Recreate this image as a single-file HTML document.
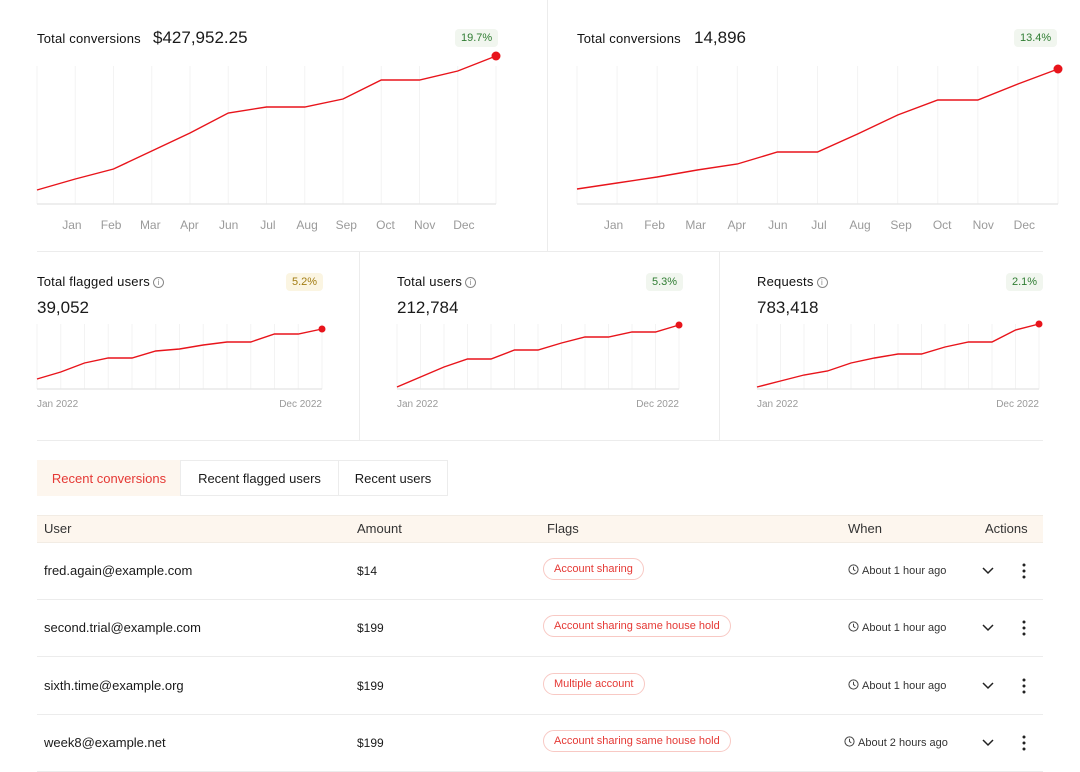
<!DOCTYPE html>
<html><head><meta charset="utf-8">
<style>
*{box-sizing:border-box;margin:0;padding:0}
body{width:1080px;height:772px;background:#fff;font-family:"Liberation Sans",sans-serif;color:#1a1a1a;position:relative;overflow:hidden}
.abs{position:absolute}
.ttl{font-size:13px;letter-spacing:0.2px;white-space:nowrap;color:#111}
.big{font-size:17px;white-space:nowrap}
.badge{font-size:11px;padding:3px 6px;border-radius:4px;background:#f1f6ef;color:#2f7d32}
.badge.y{background:#fbf5e2;color:#a27c12}
.info{display:inline-block;width:11px;height:11px;border:1px solid #888;border-radius:50%;font-size:8px;line-height:9px;text-align:center;color:#888;vertical-align:1px;margin-left:3px}
.tab{position:absolute;top:460px;height:36px;font-size:13px;line-height:36px;text-align:center;border:1px solid #ececec;background:#fff}
.th{font-size:13px;color:#333;top:521px}
.cell{font-size:13px;white-space:nowrap}
.pill{font-size:11px;color:#e53935;border:1px solid #f8c9c4;border-radius:12px;padding:4px 10px;white-space:nowrap}
.when{font-size:11px;color:#333;white-space:nowrap}
.hl{position:absolute;left:37px;width:1006px;height:1px;background:#ececec}
</style></head><body>
<svg class="abs" style="left:0;top:0" width="1080" height="772" id="charts"></svg>

<div class="abs" style="left:547px;top:0;width:1px;height:251px;background:#ececec"></div>
<div class="hl" style="top:251px"></div>
<div class="abs" style="left:359px;top:252px;width:1px;height:188px;background:#ececec"></div>
<div class="abs" style="left:719px;top:252px;width:1px;height:188px;background:#ececec"></div>
<div class="hl" style="top:440px"></div>

<div class="abs ttl" style="left:37px;top:31px">Total conversions</div>
<div class="abs big" style="left:153px;top:28px">$427,952.25</div>
<div class="abs badge" style="left:455px;top:29px">19.7%</div>
<div class="abs ttl" style="left:577px;top:31px">Total conversions</div>
<div class="abs big" style="left:694px;top:28px">14,896</div>
<div class="abs badge" style="left:1014px;top:29px">13.4%</div>

<div class="abs ttl" style="left:37px;top:274px">Total flagged users<span class="info">i</span></div>
<div class="abs big" style="left:37px;top:298px">39,052</div>
<div class="abs badge y" style="left:286px;top:273px">5.2%</div>
<div class="abs ttl" style="left:397px;top:274px">Total users<span class="info">i</span></div>
<div class="abs big" style="left:397px;top:298px">212,784</div>
<div class="abs badge" style="left:646px;top:273px">5.3%</div>
<div class="abs ttl" style="left:757px;top:274px">Requests<span class="info">i</span></div>
<div class="abs big" style="left:757px;top:298px">783,418</div>
<div class="abs badge" style="left:1006px;top:273px">2.1%</div>

<div class="tab" style="left:37px;width:144px;background:#fdf6ee;color:#e53935;border-color:#fdf6ee">Recent conversions</div>
<div class="tab" style="left:180px;width:159px">Recent flagged users</div>
<div class="tab" style="left:338px;width:110px">Recent users</div>

<div class="abs" style="left:37px;top:515px;width:1006px;height:28px;background:#fdf6ee;border-top:1px solid #f2ece4;border-bottom:1px solid #f2ece4"></div>
<div class="abs th" style="left:44px">User</div>
<div class="abs th" style="left:357px">Amount</div>
<div class="abs th" style="left:547px">Flags</div>
<div class="abs th" style="left:848px">When</div>
<div class="abs th" style="left:985px">Actions</div>

<div id="rows"></div>

<script>
const months=["Jan","Feb","Mar","Apr","Jun","Jul","Aug","Sep","Oct","Nov","Dec"];
const convValues=[14,25,35,53,71,91,97,97,105,124,124,133,148];
const conv2Values=[15,21,27,34,40,52,52,70,89,104,104,120,135];
const flaggedValues=[10,17,26,31,31,38,40,44,47,47,55,55,60];
const usersValues=[2,12,22,30,30,39,39,46,52,52,57,57,64];
const requestsValues=[2,8,14,18,26,31,35,35,42,47,47,59,65];
const smallTicks=["Jan 2022","Dec 2022"];

const NS="http://www.w3.org/2000/svg";
const svg=document.getElementById('charts');
function mk(t,a){const e=document.createElementNS(NS,t);for(const k in a)e.setAttribute(k,a[k]);svg.appendChild(e);return e;}
function chart(vals,x0,x1,yb,yt,vmax,big,name){
  const n=vals.length;
  const sx=i=>x0+(x1-x0)*i/(n-1);
  const sy=v=>yb-(yb-yt)*v/vmax;
  for(let i=0;i<n;i++){const g=mk('line',{x1:sx(i),x2:sx(i),y1:yt,y2:yb,stroke:'#f3f3f3','stroke-width':1});
    
    }
  const ax=mk('line',{x1:x0,x2:x1,y1:yb,y2:yb,stroke:'#e8e8e8','stroke-width':1.5});
  
  
  const p=mk('polyline',{points:vals.map((v,i)=>sx(i)+','+sy(v)).join(' '),fill:'none',stroke:'#e8141b','stroke-width':1.4});
  
  
  const d=mk('circle',{cx:sx(n-1),cy:sy(vals[n-1]),r:big?4.5:3.5,fill:'#e8141b'});
  
  
  if(big){
    const lx=i=>x0+(x1-x0)*(0.076+i*0.0854);
    months.forEach((m,i)=>{const t=mk('text',{x:lx(i),y:yb+25,'text-anchor':'middle','font-size':12,fill:'#9a9a9a','font-family':'Liberation Sans, sans-serif'});t.textContent=m;
      
      });
  }else{
    const a=mk('text',{x:x0,y:yb+18,'font-size':10,fill:'#9a9a9a','font-family':'Liberation Sans, sans-serif'});a.textContent=smallTicks[0];
    
    
    const b=mk('text',{x:x1,y:yb+18,'text-anchor':'end','font-size':10,fill:'#9a9a9a','font-family':'Liberation Sans, sans-serif'});b.textContent=smallTicks[1];
    
    
  }
}
chart(convValues,37,496,204,66,138,true,'conversions-revenue');
chart(conv2Values,577,1058,204,66,138,true,'conversions-count');
chart(flaggedValues,37,322,389,324,65,false,'flagged-users');
chart(usersValues,397,679,389,324,65,false,'total-users');
chart(requestsValues,757,1039,389,324,65,false,'requests');

const rowsData=[["fred.again@example.com","$14","Account sharing","About 1 hour ago"],
["second.trial@example.com","$199","Account sharing same house hold","About 1 hour ago"],
["sixth.time@example.org","$199","Multiple account","About 1 hour ago"],
["week8@example.net","$199","Account sharing same house hold","About 2 hours ago"]];
const rc=document.getElementById('rows');
const clock='<svg width="11" height="11" viewBox="0 0 12 12" style="vertical-align:-1px;margin-right:3px"><circle cx="6" cy="6" r="5" fill="none" stroke="#444" stroke-width="1.1"/><path d="M6 3v3l2 1.5" fill="none" stroke="#444" stroke-width="1.1"/></svg>';
rowsData.forEach((r,i)=>{
  const top=543+i*57.3, c=top+28;
  rc.insertAdjacentHTML('beforeend',
  `<div class="abs cell" style="left:44px;top:${c-8}px">${r[0]}</div>
   <div class="abs cell" style="left:357px;top:${c-7}px;font-size:12px">${r[1]}</div>
   <div class="abs pill" style="left:543px;top:${c-13}px">${r[2]}</div>
   <div class="abs when" style="left:${r[3].includes('2')?844:848}px;top:${c-7}px">${clock}${r[3]}</div>
   <div class="abs" style="left:981px;top:${c-8}px"><svg width="14" height="14"><path d="M2 5l5 5 5-5" fill="none" stroke="#222" stroke-width="1.5"/></svg></div>
   <div class="abs" style="left:1022px;top:${c-8}px"><svg width="4" height="16"><circle cx="2" cy="2" r="1.5" fill="#222"/><circle cx="2" cy="8" r="1.5" fill="#222"/><circle cx="2" cy="14" r="1.5" fill="#222"/></svg></div>
   <div class="hl" style="top:${top+56}px"></div>`);
});
</script>
</body></html>
